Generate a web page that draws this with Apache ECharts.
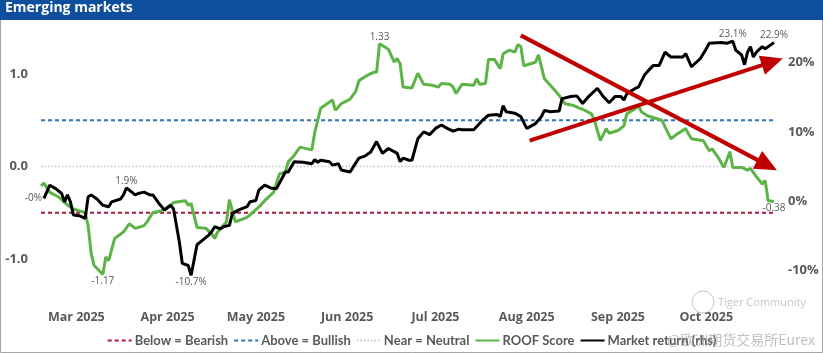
<!DOCTYPE html>
<html>
<head>
<meta charset="utf-8">
<title>Emerging markets</title>
<script src="https://cdn.jsdelivr.net/npm/echarts@6.0.0/dist/echarts.min.js"></script>
<style>
  html, body { margin: 0; padding: 0; background: #fff; }
  #main { width: 823px; height: 353px; }
</style>
</head>
<body>
<div id="main"></div>
<script>
// ROOF score (left axis)
var roofDates = [
  '2025-02-17','2025-02-18','2025-02-20','2025-02-23','2025-02-25','2025-02-27','2025-02-28',
  '2025-03-04','2025-03-05','2025-03-06','2025-03-07','2025-03-10','2025-03-11','2025-03-12',
  '2025-03-14','2025-03-17','2025-03-19','2025-03-21','2025-03-24','2025-03-25','2025-03-27',
  '2025-03-30','2025-04-02','2025-04-03','2025-04-07','2025-04-08','2025-04-09','2025-04-11',
  '2025-04-14','2025-04-16','2025-04-17','2025-04-18','2025-04-21','2025-04-22','2025-04-24',
  '2025-04-28','2025-05-02','2025-05-04','2025-05-07','2025-05-09','2025-05-11','2025-05-12',
  '2025-05-14','2025-05-16','2025-05-20','2025-05-21','2025-05-23','2025-05-27','2025-05-28',
  '2025-05-30','2025-06-02','2025-06-04','2025-06-05','2025-06-08','2025-06-10','2025-06-11',
  '2025-06-12','2025-06-15','2025-06-17','2025-06-18','2025-06-19','2025-06-20','2025-06-23',
  '2025-06-25','2025-06-27','2025-06-30','2025-07-02','2025-07-03','2025-07-06','2025-07-07',
  '2025-07-08','2025-07-10','2025-07-14','2025-07-15','2025-07-16','2025-07-18','2025-07-19',
  '2025-07-21','2025-07-23','2025-07-24','2025-07-26','2025-07-28','2025-07-29','2025-07-30',
  '2025-07-31','2025-08-02','2025-08-04','2025-08-05','2025-08-07','2025-08-09','2025-08-11',
  '2025-08-13','2025-08-14','2025-08-17','2025-08-19','2025-08-20','2025-08-23','2025-08-24',
  '2025-08-26','2025-08-28','2025-08-29','2025-09-01','2025-09-03','2025-09-04','2025-09-05',
  '2025-09-07','2025-09-08','2025-09-09','2025-09-11','2025-09-14','2025-09-16','2025-09-17',
  '2025-09-19','2025-09-21','2025-09-24','2025-09-25','2025-09-26','2025-09-30','2025-10-02',
  '2025-10-03','2025-10-05','2025-10-07','2025-10-09','2025-10-10','2025-10-13','2025-10-15',
  '2025-10-16','2025-10-18','2025-10-20','2025-10-21','2025-10-22','2025-10-24'
];
var roofScore = [
  -0.21,-0.18,-0.28,-0.33,-0.39,-0.44,-0.46,
  -0.50,-0.64,-0.93,-1.07,-1.17,-0.98,-1.02,
  -0.78,-0.71,-0.62,-0.67,-0.64,-0.60,-0.50,
  -0.48,-0.42,-0.39,-0.37,-0.42,-0.40,-0.66,
  -0.67,-0.73,-0.78,-0.71,-0.60,-0.36,-0.60,
  -0.55,-0.44,-0.37,-0.28,-0.08,-0.06,0.05,
  0.12,0.21,0.18,0.37,0.63,0.72,0.61,
  0.68,0.73,0.82,0.93,0.99,1.02,1.02,
  1.33,1.27,1.13,1.17,1.11,0.86,0.85,
  1.01,0.89,0.88,0.86,0.90,0.89,0.86,
  0.79,0.89,0.88,0.95,0.89,0.90,1.16,
  1.16,1.06,1.22,1.26,1.24,1.32,1.30,
  1.09,1.11,1.13,1.21,0.95,0.88,0.81,
  0.73,0.68,0.66,0.63,0.62,0.57,0.50,
  0.28,0.41,0.36,0.39,0.44,0.57,0.59,
  0.63,0.66,0.59,0.55,0.52,0.50,0.43,
  0.30,0.35,0.41,0.35,0.30,0.28,0.17,
  0.19,0.10,-0.01,0.16,-0.01,-0.01,-0.04,
  -0.02,-0.11,-0.19,-0.15,-0.37,-0.38
];

// Market return in % (right axis)
var mktDates = [
  '2025-02-18','2025-02-20','2025-02-22','2025-02-24','2025-02-25','2025-02-26','2025-02-27',
  '2025-02-28','2025-03-02','2025-03-04','2025-03-05','2025-03-06','2025-03-08','2025-03-10',
  '2025-03-12','2025-03-13','2025-03-16','2025-03-17','2025-03-18','2025-03-19','2025-03-21',
  '2025-03-22','2025-03-24','2025-03-26','2025-03-27','2025-03-29','2025-03-31','2025-04-02',
  '2025-04-03','2025-04-04','2025-04-05','2025-04-06','2025-04-08','2025-04-09','2025-04-11',
  '2025-04-13','2025-04-15','2025-04-16','2025-04-17','2025-04-19','2025-04-20','2025-04-22',
  '2025-04-23','2025-04-25','2025-04-28','2025-04-29','2025-05-01','2025-05-02','2025-05-04',
  '2025-05-06','2025-05-08','2025-05-09','2025-05-11','2025-05-12','2025-05-14','2025-05-17',
  '2025-05-20','2025-05-21','2025-05-22','2025-05-23','2025-05-26','2025-05-27','2025-05-29',
  '2025-05-30','2025-06-02','2025-06-03','2025-06-05','2025-06-07','2025-06-09','2025-06-11',
  '2025-06-13','2025-06-15','2025-06-18','2025-06-19','2025-06-20','2025-06-22','2025-06-23',
  '2025-06-25','2025-06-27','2025-06-29','2025-07-01','2025-07-03','2025-07-05','2025-07-07',
  '2025-07-09','2025-07-10','2025-07-14','2025-07-16','2025-07-17','2025-07-19','2025-07-22',
  '2025-07-23','2025-07-24','2025-07-25','2025-07-28','2025-07-30','2025-08-01','2025-08-04',
  '2025-08-06','2025-08-07','2025-08-09','2025-08-12','2025-08-13','2025-08-16','2025-08-18',
  '2025-08-20','2025-08-22','2025-08-25','2025-08-27','2025-08-29','2025-08-31','2025-09-02',
  '2025-09-03','2025-09-04','2025-09-05','2025-09-07','2025-09-08','2025-09-10','2025-09-11',
  '2025-09-13','2025-09-15','2025-09-17','2025-09-19','2025-09-23','2025-09-24','2025-09-26',
  '2025-09-29','2025-10-01','2025-10-02','2025-10-06','2025-10-08','2025-10-10','2025-10-11',
  '2025-10-13','2025-10-14','2025-10-15','2025-10-16','2025-10-17','2025-10-18','2025-10-20',
  '2025-10-21','2025-10-23','2025-10-24'
];
var mktReturn = [
  0.4,2.3,1.8,1.1,-0.1,0.9,-0.1,
  -2.0,-2.1,-2.5,0.6,0.9,0.3,-0.6,
  -0.8,-0.1,0.3,0.9,1.9,1.6,0.9,
  1.1,1.3,0.9,0.9,-0.3,-1.3,-0.6,
  -1.1,-3.5,-5.9,-9.0,-9.3,-10.7,-6.3,
  -5.6,-4.9,-4.4,-3.7,-4.0,-3.7,-3.5,
  -1.8,-1.3,-0.8,-0.1,0.1,1.6,2.3,
  1.9,1.8,2.6,4.2,4.2,5.7,5.6,
  5.4,6.0,5.6,5.9,5.7,5.2,5.4,
  4.5,4.2,4.9,6.2,6.5,7.1,8.6,
  6.9,7.6,6.9,5.7,6.2,5.9,5.9,
  9.0,10.0,9.6,10.5,11.0,10.5,10.1,
  10.4,10.3,10.3,11.2,11.7,12.4,12.5,
  12.2,13.8,12.9,12.7,12.2,10.5,11.2,
  12.2,13.1,12.9,13.0,14.8,15.1,15.2,
  14.1,15.1,16.3,15.1,14.2,15.1,15.1,
  14.6,15.5,15.8,16.3,16.5,18.2,18.7,
  19.6,19.6,21.5,20.8,20.8,21.3,19.4,
  20.6,22.0,22.8,22.9,22.8,23.1,21.8,
  21.1,19.7,21.5,22.3,20.8,21.5,22.3,
  22.0,22.6,22.9
];

// point labels
var roofLabelDates = ['2025-03-10', '2025-06-12', '2025-10-24'];
var roofLabelPos = ['bottom', 'top', 'bottom'];
var mktLabelDates = ['2025-02-18', '2025-03-18', '2025-04-09', '2025-10-10', '2025-10-24'];
var mktLabelPos = ['left', 'top', 'bottom', 'top', 'top'];
var mktLabelText = ['-0%', null, null, null, null];

// reference levels
var bearishLevel = -0.5;
var bullishLevel = 0.5;
var neutralLevel = 0;

var xStart = '2025-02-17';
var xEnd = '2025-10-24';
var monthTicks = ['2025-03-01','2025-04-01','2025-05-01','2025-06-01','2025-07-01','2025-08-01','2025-09-01','2025-10-01'];
var monthNames = ['Jan','Feb','Mar','Apr','May','Jun','Jul','Aug','Sep','Oct','Nov','Dec'];
var leftTicks = [-1, 0, 1];
var rightTicks = [-10, 0, 10, 20];

// annotation arrows, in data space of the left axis
var arrowDown = [['2025-07-30', 1.42], ['2025-10-25', -0.04]];
var arrowUp = [['2025-08-02', 0.28], ['2025-10-27', 1.17]];

function toTime(s) { return new Date(s + 'T00:00:00').getTime(); }

var labelColor = '#595959';
var fontFam = '"Open Sans", "Noto Sans", sans-serif';

function buildData(dates, values, lblDates, lblPos, lblText, fmt) {
  return dates.map(function (d, i) {
    var item = { value: [toTime(d), values[i]] };
    var k = lblDates.indexOf(d);
    if (k >= 0) {
      var txt = (lblText && lblText[k]) ? lblText[k] : fmt(values[i]);
      item.label = {
        show: true, position: lblPos[k], distance: 2,
        formatter: txt, color: labelColor, fontSize: 10, fontFamily: fontFam
      };
    }
    return item;
  });
}

var roofData = buildData(roofDates, roofScore, roofLabelDates, roofLabelPos, null,
  function (v) { return v.toFixed(2); });
var mktData = buildData(mktDates, mktReturn, mktLabelDates, mktLabelPos, mktLabelText,
  function (v) { return v.toFixed(1) + '%'; });

function levelSeries(name, level, color, width, dash) {
  return {
    name: name, type: 'line', yAxisIndex: 0, symbol: 'none', silent: true,
    data: [[toTime(xStart), level], [toTime(xEnd), level]],
    lineStyle: { color: color, width: width, type: dash },
    itemStyle: { color: color },
    z: 1
  };
}

var myChart = echarts.init(document.getElementById('main'));

var option = {
  animation: false,
  textStyle: { fontFamily: fontFam },
  grid: { left: 41, right: 49, top: 28, bottom: 48 },
  legend: {
    bottom: 1, left: 'center',
    itemWidth: 24, itemHeight: 10, itemGap: 5,
    itemStyle: { opacity: 0 },
    textStyle: { color: labelColor, fontSize: 13, fontWeight: 'bold', fontFamily: 'Lato, "Open Sans", sans-serif', padding: [0, 0, 0, -2] },
    data: ['Below = Bearish', 'Above = Bullish', 'Near = Neutral', 'ROOF Score', 'Market return (rhs)']
  },
  xAxis: {
    type: 'value',
    min: toTime(xStart),
    max: toTime(xEnd),
    axisLine: { show: false },
    axisTick: { show: false },
    splitLine: { show: false },
    axisLabel: {
      customValues: monthTicks.map(toTime),
      margin: 6,
      color: labelColor, fontSize: 12.5, fontWeight: 'bold', fontFamily: fontFam,
      formatter: function (v) {
        var d = new Date(v);
        return monthNames[d.getMonth()] + ' ' + d.getFullYear();
      }
    }
  },
  yAxis: [
    {
      type: 'value', min: -1.5, max: 1.5, position: 'left',
      axisLine: { show: false }, axisTick: { show: false }, splitLine: { show: false },
      axisLabel: {
        customValues: leftTicks, margin: 13,
        color: labelColor, fontSize: 13, fontWeight: 'bold', fontFamily: fontFam,
        formatter: function (v) { return v.toFixed(1); }
      }
    },
    {
      type: 'value', min: -15, max: 25, position: 'right',
      axisLine: { show: false }, axisTick: { show: false }, splitLine: { show: false },
      axisLabel: {
        customValues: rightTicks, margin: 14,
        color: labelColor, fontSize: 13, fontWeight: 'bold', fontFamily: fontFam,
        formatter: function (v) { return v + '%'; }
      }
    }
  ],
  series: [
    levelSeries('Below = Bearish', bearishLevel, '#b2173a', 2, [4, 3]),
    levelSeries('Above = Bullish', bullishLevel, '#2e75b6', 2, [4, 3]),
    levelSeries('Near = Neutral', neutralLevel, '#c4c4c4', 1.5, [1.5, 2]),
    {
      name: 'ROOF Score', type: 'line', yAxisIndex: 0,
      symbol: 'circle', symbolSize: 0, showSymbol: true,
      data: roofData,
      lineStyle: { color: '#5cb346', width: 3 },
      itemStyle: { color: '#5cb346' },
      z: 3
    },
    {
      name: 'Market return (rhs)', type: 'line', yAxisIndex: 1,
      symbol: 'circle', symbolSize: 0, showSymbol: true,
      data: mktData,
      lineStyle: { color: '#000000', width: 3 },
      itemStyle: { color: '#000000' },
      z: 4
    }
  ]
};

myChart.setOption(option);

function arrowShapes(a, color) {
  var p0 = myChart.convertToPixel({ xAxisIndex: 0, yAxisIndex: 0 }, [toTime(a[0][0]), a[0][1]]);
  var p1 = myChart.convertToPixel({ xAxisIndex: 0, yAxisIndex: 0 }, [toTime(a[1][0]), a[1][1]]);
  var dx = p1[0] - p0[0], dy = p1[1] - p0[1];
  var len = Math.sqrt(dx * dx + dy * dy);
  var ux = dx / len, uy = dy / len;
  var headLen = 22, headW = 10;
  var bx = p1[0] - ux * headLen, by = p1[1] - uy * headLen;
  return [
    { type: 'line', z: 50, shape: { x1: p0[0], y1: p0[1], x2: bx + ux * 2, y2: by + uy * 2 },
      style: { stroke: color, lineWidth: 4 } },
    { type: 'polygon', z: 50, shape: { points: [[p1[0], p1[1]], [bx - uy * headW, by + ux * headW], [bx + uy * headW, by - ux * headW]] },
      style: { fill: color } }
  ];
}

var graphics = [
  { type: 'rect', z: 0, shape: { x: 0.5, y: 0.5, width: 822, height: 352 },
    style: { fill: 'none', stroke: '#a6a6a6', lineWidth: 1 } },
  { type: 'rect', z: 10, shape: { x: 0, y: 0, width: 823, height: 20 },
    style: { fill: '#0d4f9c' } },
  { type: 'text', z: 11, left: 5, top: 1,
    style: { text: 'Emerging markets', fill: '#ffffff', font: 'bold 14px ' + fontFam } },
  // watermark
  { type: 'circle', z: 20, shape: { cx: 703, cy: 302, r: 11 },
    style: { fill: 'none', stroke: 'rgba(150,150,150,0.55)', lineWidth: 1 } },
  { type: 'text', z: 20, left: 718, top: 297,
    style: { text: 'Tiger Community', fill: 'rgba(150,150,150,0.55)', font: '11px ' + fontFam } },
  { type: 'text', z: 20, left: 667, top: 333,
    style: { text: '@欧洲期货交易所Eurex', fill: 'rgba(150,150,150,0.6)', font: '14px "Noto Sans CJK SC", sans-serif' } }
];
graphics = graphics.concat(arrowShapes(arrowDown, '#c00000'), arrowShapes(arrowUp, '#c00000'));

myChart.setOption({ graphic: graphics });
</script>
</body>
</html>
